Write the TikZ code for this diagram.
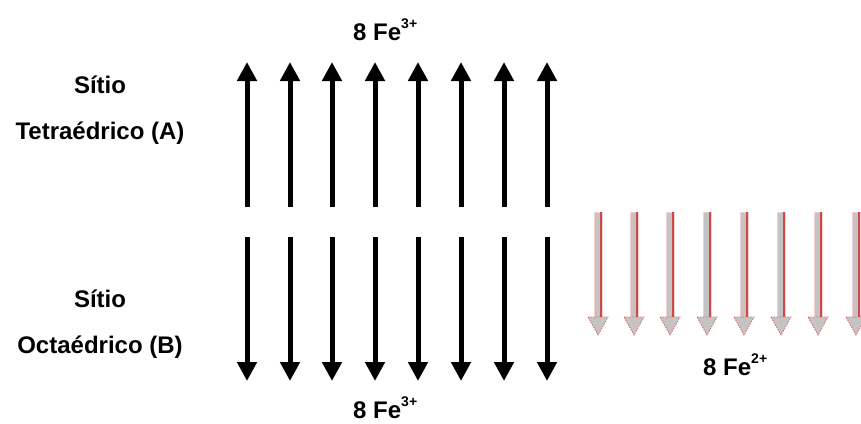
\documentclass[tikz,border=0pt]{standalone}
\usepackage{fontspec}
\setmainfont{Liberation Sans}
\usetikzlibrary{arrows.meta}
\definecolor{shaftgray}{HTML}{C4C4C4}
\definecolor{edgered}{HTML}{D04848}
\newcommand{\supx}[1]{\raisebox{0.48em}{\fontsize{14}{14}\selectfont #1}}
\begin{document}
\begin{tikzpicture}[x=1pt,y=-1pt,
  lbl/.style={font=\fontsize{24}{28}\selectfont\bfseries, anchor=base, inner sep=0pt},
  blk/.style={line width=5pt, -{Triangle[width=19pt,length=19pt]}},
  grayshaft/.style={fill=shaftgray, draw=edgered!25, line width=0.6pt},
  redline/.style={draw=edgered, line width=1.8pt},
  grayhead/.style={fill=shaftgray, draw=edgered!80, line width=0.8pt, dash pattern=on 1.5pt off 1.2pt},
]
\useasboundingbox (0,0) rectangle (861,423);
\fill[white] (0,0) rectangle (861,423);
% black arrows
\foreach \x [count=\i] in {247,290,332,375,418,461,504,547}{
  \coordinate (ta\i) at (\x,207);
  \coordinate (tb\i) at (\x,62);
  \coordinate (ba\i) at (\x,237);
  \coordinate (bb\i) at (\x,381);
  \draw[blk] (ta\i) -- (tb\i);
  \draw[blk] (ba\i) -- (bb\i);
}
% gray arrows
\foreach \x [count=\i] in {598,634,670,707,744,781,818,856}{
  \coordinate (ga\i) at (\x,212);
  \coordinate (gb\i) at (\x,317);
  \coordinate (gt\i) at (\x,335);
  \filldraw[grayshaft] ([xshift=-4pt]ga\i) rectangle ([xshift=4pt]gb\i);
  \draw[redline] ([xshift=2.8pt]ga\i) -- ([xshift=2.8pt]gb\i);
  \filldraw[grayhead] ([xshift=-10pt]gb\i) -- ([xshift=10pt]gb\i) -- (gt\i) -- cycle;
}
% labels
\node[lbl] (s1) at (100,93) {Sítio};
\node[lbl] (t1) at (100,139) {Tetraédrico (A)};
\node[lbl] (s2) at (100,307) {Sítio};
\node[lbl] (o2) at (100,353) {Octaédrico (B)};
\node[lbl, anchor=base west] (fe1) at (353,40) {8 Fe\supx{3+}};
\node[lbl, anchor=base west] (fe2) at (353,418) {8 Fe\supx{3+}};
\node[lbl, anchor=base west] (fe3) at (703,375) {8 Fe\supx{2+}};
\end{tikzpicture}
\end{document}
